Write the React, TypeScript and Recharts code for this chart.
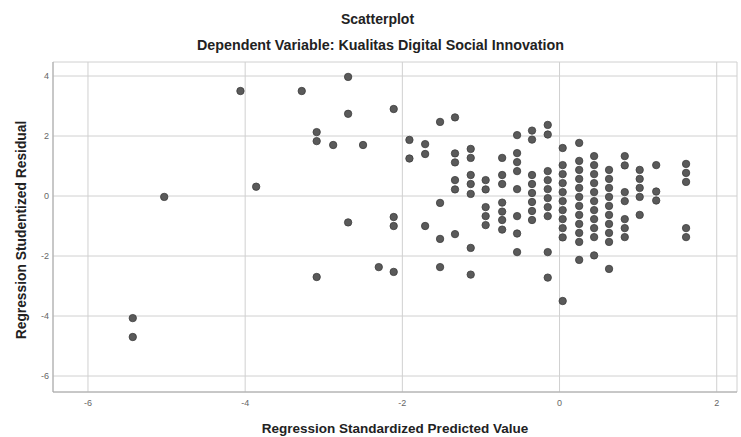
import React from 'react';
import { ScatterChart, Scatter, XAxis, YAxis, CartesianGrid } from 'recharts';

// predicted values (x) — one entry per column of points
const predictedValues = [
  -5.43, -5.03, -4.06, -3.86, -3.28, -3.09, -2.88, -2.69, -2.5, -2.3, -2.11, -1.91, -1.71, -1.52, -1.33,
  -1.13, -0.94, -0.73, -0.54, -0.35, -0.15, 0.04, 0.25, 0.44, 0.63, 0.83, 1.02, 1.23, 1.61,
];

// studentized residuals for each column above
const residualGroups = [
  [-4.07, -4.7],
  [-0.03],
  [3.5],
  [0.31],
  [3.5],
  [2.13, 1.83, -2.7],
  [1.7],
  [3.97, 2.74, -0.88],
  [1.7],
  [-2.37],
  [2.9, -0.7, -1.0, -2.53],
  [1.87, 1.25],
  [1.73, 1.4, -1.0],
  [2.47, -0.23, -1.43, -2.37],
  [2.62, 1.42, 1.12, 0.53, 0.22, -1.27],
  [1.57, 1.27, 0.7, 0.4, 0.07, -1.73, -2.62],
  [0.53, 0.22, -0.37, -0.67, -0.97],
  [1.27, 0.7, 0.4, -0.22, -0.52, -0.8, -1.12],
  [2.03, 1.43, 1.13, 0.83, 0.23, -0.67, -1.25, -1.87],
  [2.18, 1.88, 0.7, 0.4, 0.1, -0.2, -0.5, -0.8],
  [2.37, 2.05, 0.83, 0.53, 0.23, -0.07, -0.37, -0.67, -1.87, -2.72],
  [1.6, 1.03, 0.73, 0.43, 0.13, -0.17, -0.47, -0.77, -1.07, -1.38, -3.5],
  [1.77, 1.17, 0.87, 0.57, 0.27, -0.03, -0.33, -0.63, -0.93, -1.23, -1.53, -2.13],
  [1.33, 1.03, 0.73, 0.43, 0.13, -0.17, -0.47, -0.77, -1.07, -1.37, -1.98],
  [0.87, 0.57, 0.27, -0.03, -0.33, -0.63, -0.93, -1.23, -1.53, -2.43],
  [1.33, 1.02, 0.13, -0.17, -0.77, -1.07, -1.37],
  [0.87, 0.57, 0.27, -0.03, -0.63],
  [1.03, 0.15, -0.15],
  [1.07, 0.77, 0.47, -1.07, -1.37],
];

const xTicks = [-6, -4, -2, 0, 2];
const yTicks = [-6, -4, -2, 0, 2, 4];

const points = predictedValues.flatMap((x, i) => residualGroups[i].map((y) => ({ x, y })));

const FONT = '"Liberation Sans", Arial, sans-serif';

const Dot = (props: { cx?: number; cy?: number }) => (
  <circle cx={props.cx} cy={props.cy} r={3.7} fill="#5a5a5a" stroke="#3c3c3c" strokeWidth={0.8} />
);

const YTitle = () => (
  <text
    x={0}
    y={0}
    transform="translate(21, 230) rotate(-90)"
    textAnchor="middle"
    dominantBaseline="central"
    fontSize={13.8}
    fontWeight="bold"
    fill="#222"
    fontFamily={FONT}
  >
    Regression Studentized Residual
  </text>
);

export default function App() {
  return (
    <div
      style={{
        position: 'absolute',
        left: 0,
        top: 0,
        width: 741,
        height: 437,
        background: '#fff',
        fontFamily: FONT,
      }}
    >
      <div
        style={{
          position: 'absolute',
          top: 11,
          left: 0,
          width: 755,
          textAlign: 'center',
          fontSize: 14,
          lineHeight: '17px',
          fontWeight: 'bold',
          color: '#222',
        }}
      >
        Scatterplot
      </div>
      <div
        style={{
          position: 'absolute',
          top: 37,
          left: 0,
          width: 761,
          textAlign: 'center',
          fontSize: 14.3,
          lineHeight: '17px',
          fontWeight: 'bold',
          color: '#222',
        }}
      >
        Dependent Variable: Kualitas Digital Social Innovation
      </div>
      <ScatterChart width={741} height={437} margin={{ top: 62, right: 4, bottom: 0, left: 8 }}>
        <CartesianGrid stroke="#d0d0d0" strokeWidth={1} />
        <XAxis
          type="number"
          dataKey="x"
          domain={[-6.445, 2.258]}
          ticks={xTicks}
          allowDataOverflow
          height={45}
          stroke="#a8a8a8"
          tickLine={false}
          tickSize={6}
          tickMargin={2}
          tick={{ fontSize: 9, fill: '#666', fontFamily: FONT }}
          label={{
            value: 'Regression Standardized Predicted Value',
            position: 'insideBottom',
            offset: 4,
            style: { fontSize: 13.5, fontWeight: 'bold', fill: '#222', fontFamily: FONT },
          }}
        />
        <YAxis
          type="number"
          dataKey="y"
          domain={[-6.533, 4.467]}
          ticks={yTicks}
          allowDataOverflow
          width={45}
          stroke="#a8a8a8"
          tickLine={false}
          tickSize={4}
          tickMargin={0}
          tick={{ fontSize: 9, fill: '#666', fontFamily: FONT }}
          label={{ content: () => <YTitle /> }}
        />
        <Scatter data={points} shape={<Dot />} isAnimationActive={false} />
      </ScatterChart>
    </div>
  );
}
